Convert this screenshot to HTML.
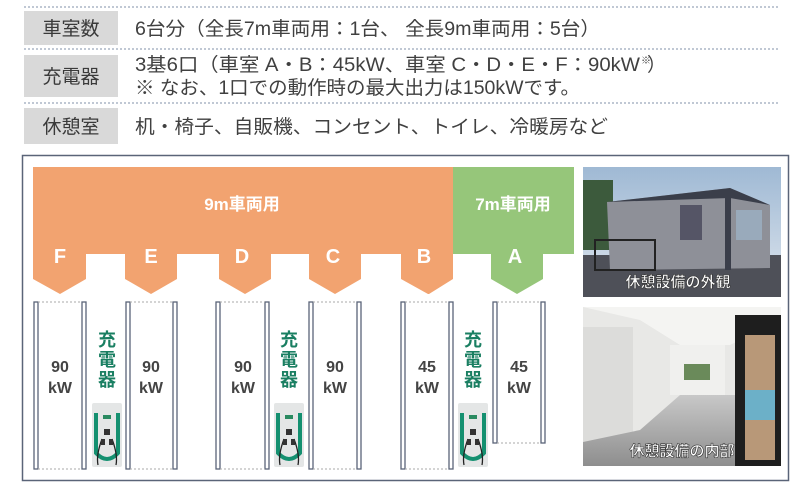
<!DOCTYPE html>
<html><head><meta charset="utf-8"><style>
body{margin:0;width:800px;height:490px;background:#fff;overflow:hidden;font-family:"Liberation Sans","Noto Sans CJK JP",sans-serif;}
</style></head><body>
<svg width="800" height="490" viewBox="0 0 800 490" xmlns="http://www.w3.org/2000/svg" font-family="Liberation Sans, Noto Sans CJK JP, sans-serif">
<defs>
<linearGradient id="sky" x1="0" y1="0" x2="0" y2="1"><stop offset="0" stop-color="#9fb9d4"/><stop offset="1" stop-color="#dfe6ee"/></linearGradient>
<linearGradient id="floor" x1="0" y1="0" x2="0" y2="1"><stop offset="0" stop-color="#c8c8c8"/><stop offset="1" stop-color="#8e8e8e"/></linearGradient>
<g id="chg">
<rect x="0" y="0" width="30" height="64" rx="2" fill="#e4e6e6"/>
<path d="M4 10 V50 Q15 62 26 50 V10" fill="none" stroke="#149070" stroke-width="4"/>
<rect x="11" y="12" width="8" height="4" fill="#2a8a60"/>
<rect x="12" y="26" width="6" height="6" fill="#333"/>
<path d="M10 36 Q4 52 6 62 M20 36 Q26 52 24 62" fill="none" stroke="#222" stroke-width="1.3"/>
<rect x="9" y="36" width="4" height="6" fill="#333"/><rect x="17" y="36" width="4" height="6" fill="#333"/>
</g>
</defs>
<g stroke="#8090a8" stroke-width="1" stroke-dasharray="2,2">
<line x1="24" y1="7" x2="780" y2="7"/><line x1="24" y1="49" x2="780" y2="49"/><line x1="24" y1="103" x2="780" y2="103"/>
</g>
<g fill="#d9d9d9"><rect x="24" y="11" width="94" height="34"/><rect x="24" y="55" width="94" height="42"/><rect x="24" y="108" width="94" height="36"/></g>
<g fill="#3a3a3a" font-size="19">
<text x="71" y="35" text-anchor="middle">車室数</text>
<text x="71" y="83" text-anchor="middle">充電器</text>
<text x="71" y="133" text-anchor="middle">休憩室</text>
</g>
<g fill="#404040" font-size="19">
<text x="135" y="35" textLength="465" lengthAdjust="spacingAndGlyphs">6台分（全長7m車両用：1台、 全長9m車両用：5台）</text>
<text x="135" y="71" textLength="505" lengthAdjust="spacingAndGlyphs">3基6口（車室 A・B：45kW、車室 C・D・E・F：90kW</text>
<text x="641" y="64" font-size="10">※</text><text x="647" y="71">）</text>
<text x="135" y="94" textLength="445" lengthAdjust="spacingAndGlyphs">※ なお、1口での動作時の最大出力は150kWです。</text>
<text x="135" y="133" textLength="473" lengthAdjust="spacingAndGlyphs">机・椅子、自販機、コンセント、トイレ、冷暖房など</text>
</g>
<rect x="22.5" y="155.5" width="766" height="325" fill="#fff" stroke="#5a6478" stroke-width="1.5"/>
<path d="M33 167 H453 V254 H453 V279 L429 294 H428 L401 279 V254 H361 V279 L335 294 L309 279 V254 H271 V279 L245 294 L219 279 V254 H177 V279 L151 294 L125 279 V254 H86 V279 L60 294 L33 279 Z" fill="#f2a370"/>
<path d="M453 167 H574 V254 H543 V279 L517 294 L491 279 V254 H453 Z" fill="#96c67a"/>
<g fill="#fff" font-weight="bold" text-anchor="middle">
<text x="242" y="210" font-size="17">9m車両用</text>
<text x="513" y="210" font-size="17">7m車両用</text>
<g font-size="20"><text x="60" y="263">F</text><text x="151" y="263">E</text><text x="242" y="263">D</text><text x="333" y="263">C</text><text x="424" y="263">B</text><text x="515" y="263">A</text></g>
</g>
<g stroke="#5a6478" stroke-width="1.3" fill="#fff">
<rect x="34" y="302" width="4" height="167"/><rect x="82" y="302" width="4" height="167"/>
<rect x="126" y="302" width="4" height="167"/><rect x="173" y="302" width="4" height="167"/>
<rect x="216" y="302" width="4" height="167"/><rect x="265" y="302" width="4" height="167"/>
<rect x="309" y="302" width="4" height="167"/><rect x="357" y="302" width="4" height="167"/>
<rect x="401" y="302" width="4" height="167"/><rect x="449" y="302" width="4" height="167"/>
<rect x="493" y="302" width="4" height="141"/><rect x="541" y="302" width="4" height="141"/>
</g>
<g stroke="#aaa" stroke-width="1" stroke-dasharray="2,2" fill="none">
<path d="M38 302 H82 M38 469 H82 M130 302 H173 M130 469 H173 M220 302 H265 M220 469 H265 M313 302 H357 M313 469 H357 M405 302 H449 M405 469 H449 M497 302 H541 M497 443 H541"/>
</g>
<g fill="#444" font-weight="bold" font-size="16" text-anchor="middle">
<text x="60" y="372">90</text><text x="60" y="393">kW</text>
<text x="151" y="372">90</text><text x="151" y="393">kW</text>
<text x="243" y="372">90</text><text x="243" y="393">kW</text>
<text x="335" y="372">90</text><text x="335" y="393">kW</text>
<text x="427" y="372">45</text><text x="427" y="393">kW</text>
<text x="519" y="372">45</text><text x="519" y="393">kW</text>
</g>
<g fill="#1a7f62" font-weight="bold" font-size="18" text-anchor="middle">
<text x="107" y="346">充</text><text x="107" y="366">電</text><text x="107" y="386">器</text>
<text x="289" y="346">充</text><text x="289" y="366">電</text><text x="289" y="386">器</text>
<text x="473" y="346">充</text><text x="473" y="366">電</text><text x="473" y="386">器</text>
</g>
<use href="#chg" x="92" y="403"/><use href="#chg" x="274" y="403"/><use href="#chg" x="458" y="403"/>
<rect x="583" y="167" width="198" height="130" fill="url(#sky)"/>
<rect x="583" y="180" width="30" height="70" fill="#3c5a3c"/>
<rect x="583" y="255" width="198" height="42" fill="#4e5058"/>
<path d="M607 202 L730 188 L770 205 L770 268 L610 270 Z" fill="#8e9098"/>
<path d="M607 202 L730 188 L770 205 L730 198 Z" fill="#3a3e4a"/>
<rect x="725" y="198" width="6" height="72" fill="#3a3e4a"/>
<rect x="680" y="205" width="22" height="35" fill="#556"/><rect x="736" y="210" width="26" height="30" fill="#9ab"/>
<rect x="595" y="240" width="60" height="30" fill="none" stroke="#222" stroke-width="2"/>
<text x="678" y="287" fill="#fff" font-size="15" font-weight="bold" text-anchor="middle" stroke="#333" stroke-width="0.6">休憩設備の外観</text>
<rect x="583" y="307" width="198" height="159" fill="#e8e8e6"/>
<path d="M583 307 H781 V320 L730 345 H680 L640 320 Z" fill="#f4f4f2"/>
<rect x="583" y="327" width="50" height="115" fill="#dcdcda"/>
<path d="M583 442 L640 430 L680 395 H735 L781 466 H583 Z" fill="url(#floor)"/>
<rect x="670" y="345" width="55" height="50" fill="#f0f0ee"/>
<rect x="684" y="364" width="26" height="16" fill="#6a8a5a"/>
<rect x="735" y="315" width="46" height="151" fill="#1e1e1e"/>
<rect x="745" y="335" width="30" height="125" fill="#b89878"/>
<rect x="745" y="390" width="30" height="30" fill="#6cb0c8"/>
<text x="682" y="456" fill="#fff" font-size="15" font-weight="bold" text-anchor="middle" stroke="#333" stroke-width="0.6">休憩設備の内部</text>
</svg>
</body></html>
